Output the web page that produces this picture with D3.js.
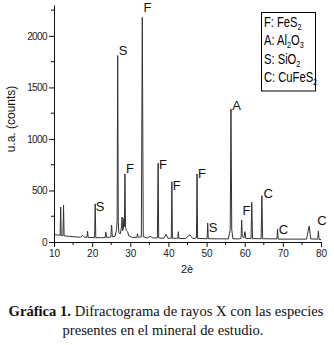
<!DOCTYPE html>
<html>
<head>
<meta charset="utf-8">
<script src="https://cdn.jsdelivr.net/npm/d3@7/dist/d3.min.js"></script>
<style>
  html, body { margin: 0; padding: 0; background: #fff; }
  svg { display: block; }
</style>
</head>
<body>
<svg id="chart" width="334" height="345"></svg>
<script>
// ---- DATA ----
// 2θ values of the pattern trace (degrees)
const twoTheta = [
  10.0, 11.0, 11.6, 11.75, 11.9, 12.35, 12.5, 12.65, 14.0, 16.0,
  17.0, 17.5, 18.0, 18.65, 18.8, 18.95, 20.65, 20.8, 20.95, 22.5,
  23.45, 23.6, 23.75, 24.9, 25.1, 25.3, 26.0, 26.4, 26.55, 26.7,
  26.85, 27.0, 27.4, 27.7, 27.85, 28.0, 28.2, 28.3, 28.45, 28.6,
  28.75, 29.0, 29.3, 29.6, 30.5, 31.7, 31.9, 32.1, 32.9, 33.15,
  33.4, 34.5, 35.2, 36.0, 37.1, 37.3, 37.45, 38.8, 39.4, 39.9,
  40.75, 40.9, 41.05, 42.45, 42.6, 42.75, 44.5, 45.6, 46.4, 47.35,
  47.5, 47.65, 50.15, 50.3, 50.45, 55.7, 56.2, 56.4, 56.6, 56.9,
  58.3, 59.05, 59.2, 59.35, 59.8, 60.05, 60.3, 61.65, 61.85, 62.05,
  64.3, 64.5, 64.7, 68.45, 68.6, 68.75, 76.2, 76.6, 76.9, 77.3,
  79.15, 79.3, 79.5, 80.0
];
// intensities (counts) at those 2θ values
const counts = [
  72, 68, 65, 340, 62, 62, 358, 60, 55, 48,
  47, 65, 45, 45, 105, 44, 42, 370, 42, 42,
  45, 95, 45, 48, 165, 50, 55, 120, 200, 1810,
  200, 90, 80, 150, 242, 110, 130, 230, 150, 660,
  140, 110, 100, 60, 45, 45, 80, 45, 50, 2180,
  50, 40, 55, 38, 40, 765, 40, 35, 75, 35,
  38, 584, 36, 36, 100, 35, 33, 70, 33, 40,
  660, 35, 32, 185, 32, 30, 120, 1290, 120, 32,
  30, 35, 213, 60, 40, 100, 35, 33, 385, 33,
  32, 450, 32, 30, 125, 28, 28, 100, 155, 30,
  28, 105, 25, 24
];

// peak annotations: letter, 2θ of label anchor, counts of label baseline
const peakLetters = ["S", "F", "F", "S", "F", "F", "F", "S", "A", "F", "C", "C", "C"];
const peakLabelX  = [26.95, 33.45, 28.85, 20.95, 37.55, 41.15, 47.75, 50.6, 56.7, 59.45, 64.9, 68.95, 79.0];
const peakLabelY  = [1815, 2235, 670, 300, 710, 505, 620, 95, 1285, 258, 426, 80, 165];

// legend entries (text parts: [text, isSubscript])
const legendEntries = [
  [["F: FeS", 0], ["2", 1]],
  [["A: Al", 0], ["2", 1], ["O", 0], ["3", 1]],
  [["S: SiO", 0], ["2", 1]],
  [["C: CuFeS", 0], ["2", 1]]
];

const xTicksMajor = [10, 20, 30, 40, 50, 60, 70, 80];
const yTicksMajor = [0, 500, 1000, 1500, 2000];
const yLabel = "u.a. (counts)";
const xLabel = "2è";
const captionBold = "Gráfica 1.";
const captionLine1 = " Difractograma de rayos X con las especies";
const captionLine2 = "presentes en el mineral de estudio.";

// ---- DRAW ----
const svg = d3.select("#chart");
const x = d3.scaleLinear().domain([10, 80]).range([54, 321]);
const y = d3.scaleLinear().domain([0, 2300]).range([242, 5]);

const axisColor = "#111";
const tickFont = "Liberation Sans, Arial, sans-serif";

// Y axis
const yAxis = d3.axisLeft(y).tickValues(yTicksMajor).tickFormat(d3.format("d"))
  .tickSize(5).tickSizeOuter(0).tickPadding(2);
const gy = svg.append("g").attr("transform", `translate(${x(10)},0)`).call(yAxis);
gy.selectAll(".tick text").attr("font-family", tickFont).attr("font-size", 10).attr("letter-spacing", "-0.6").attr("fill", "#222");
gy.select(".domain").attr("stroke", axisColor);
gy.selectAll(".tick line").attr("stroke", axisColor);
const yMinor = d3.range(250, 2300, 500);
svg.append("g").selectAll("line").data(yMinor).join("line")
  .attr("x1", x(10) - 3).attr("x2", x(10))
  .attr("y1", d => y(d)).attr("y2", d => y(d))
  .attr("stroke", axisColor);

// X axis
const xAxis = d3.axisBottom(x).tickValues(xTicksMajor).tickFormat(d3.format("d"))
  .tickSize(5).tickSizeOuter(0).tickPadding(3);
const gx = svg.append("g").attr("transform", `translate(0,${y(0)})`).call(xAxis);
gx.selectAll(".tick text").attr("font-family", tickFont).attr("font-size", 10).attr("fill", "#222");
gx.select(".domain").attr("stroke", axisColor);
gx.selectAll(".tick line").attr("stroke", axisColor);
const xMinor = d3.range(15, 80, 10);
svg.append("g").selectAll("line").data(xMinor).join("line")
  .attr("x1", d => x(d)).attr("x2", d => x(d))
  .attr("y1", y(0)).attr("y2", y(0) + 3)
  .attr("stroke", axisColor);

// Pattern trace
const pts = twoTheta.map((t, i) => [t, counts[i]]);
svg.append("path")
  .datum(pts)
  .attr("fill", "none")
  .attr("stroke", "#333")
  .attr("stroke-width", 1)
  .attr("stroke-linejoin", "miter")
  .attr("d", d3.line().x(d => x(d[0])).y(d => y(d[1])));

// Peak labels
svg.append("g").selectAll("text").data(peakLetters).join("text")
  .attr("x", (d, i) => x(peakLabelX[i]))
  .attr("y", (d, i) => y(peakLabelY[i]))
  .attr("font-family", tickFont)
  .attr("font-size", 13)
  .attr("fill", "#111")
  .text(d => d);

// Axis titles
svg.append("text")
  .attr("transform", `translate(15,119) rotate(-90)`)
  .attr("text-anchor", "middle")
  .attr("font-family", tickFont)
  .attr("font-size", 12)
  .attr("fill", "#111")
  .text(yLabel);

svg.append("text")
  .attr("x", 187).attr("y", 273)
  .attr("text-anchor", "middle")
  .attr("font-family", tickFont)
  .attr("font-size", 11)
  .attr("fill", "#111")
  .text(xLabel);

// Legend
const lg = svg.append("g");
lg.append("rect")
  .attr("x", 261.5).attr("y", 12.5).attr("width", 54).attr("height", 78.5)
  .attr("fill", "#fff").attr("stroke", "#000").attr("stroke-width", 1);
legendEntries.forEach((parts, i) => {
  const t = lg.append("text")
    .attr("transform", `translate(264,${27 + i * 18.3}) scale(0.8,1)`)
    .attr("font-family", tickFont)
    .attr("font-size", 14)
    .attr("fill", "#000");
  let shifted = false;
  parts.forEach(([s, sub]) => {
    const ts = t.append("tspan").text(s);
    if (sub && !shifted) { ts.attr("dy", 3).attr("font-size", 9); shifted = true; }
    else if (!sub && shifted) { ts.attr("dy", -3); shifted = false; }
    else if (sub) { ts.attr("font-size", 9); }
  });
});

// Caption
const cap1 = svg.append("text")
  .attr("x", 166).attr("y", 316)
  .attr("text-anchor", "middle")
  .attr("font-family", "Liberation Serif, Times New Roman, serif")
  .attr("font-size", 14.6)
  .attr("fill", "#111");
cap1.append("tspan").attr("font-weight", "bold").text(captionBold);
cap1.append("tspan").text(captionLine1);

svg.append("text")
  .attr("x", 163).attr("y", 335)
  .attr("text-anchor", "middle")
  .attr("font-family", "Liberation Serif, Times New Roman, serif")
  .attr("font-size", 14.6)
  .attr("fill", "#111")
  .text(captionLine2);
</script>
</body>
</html>
